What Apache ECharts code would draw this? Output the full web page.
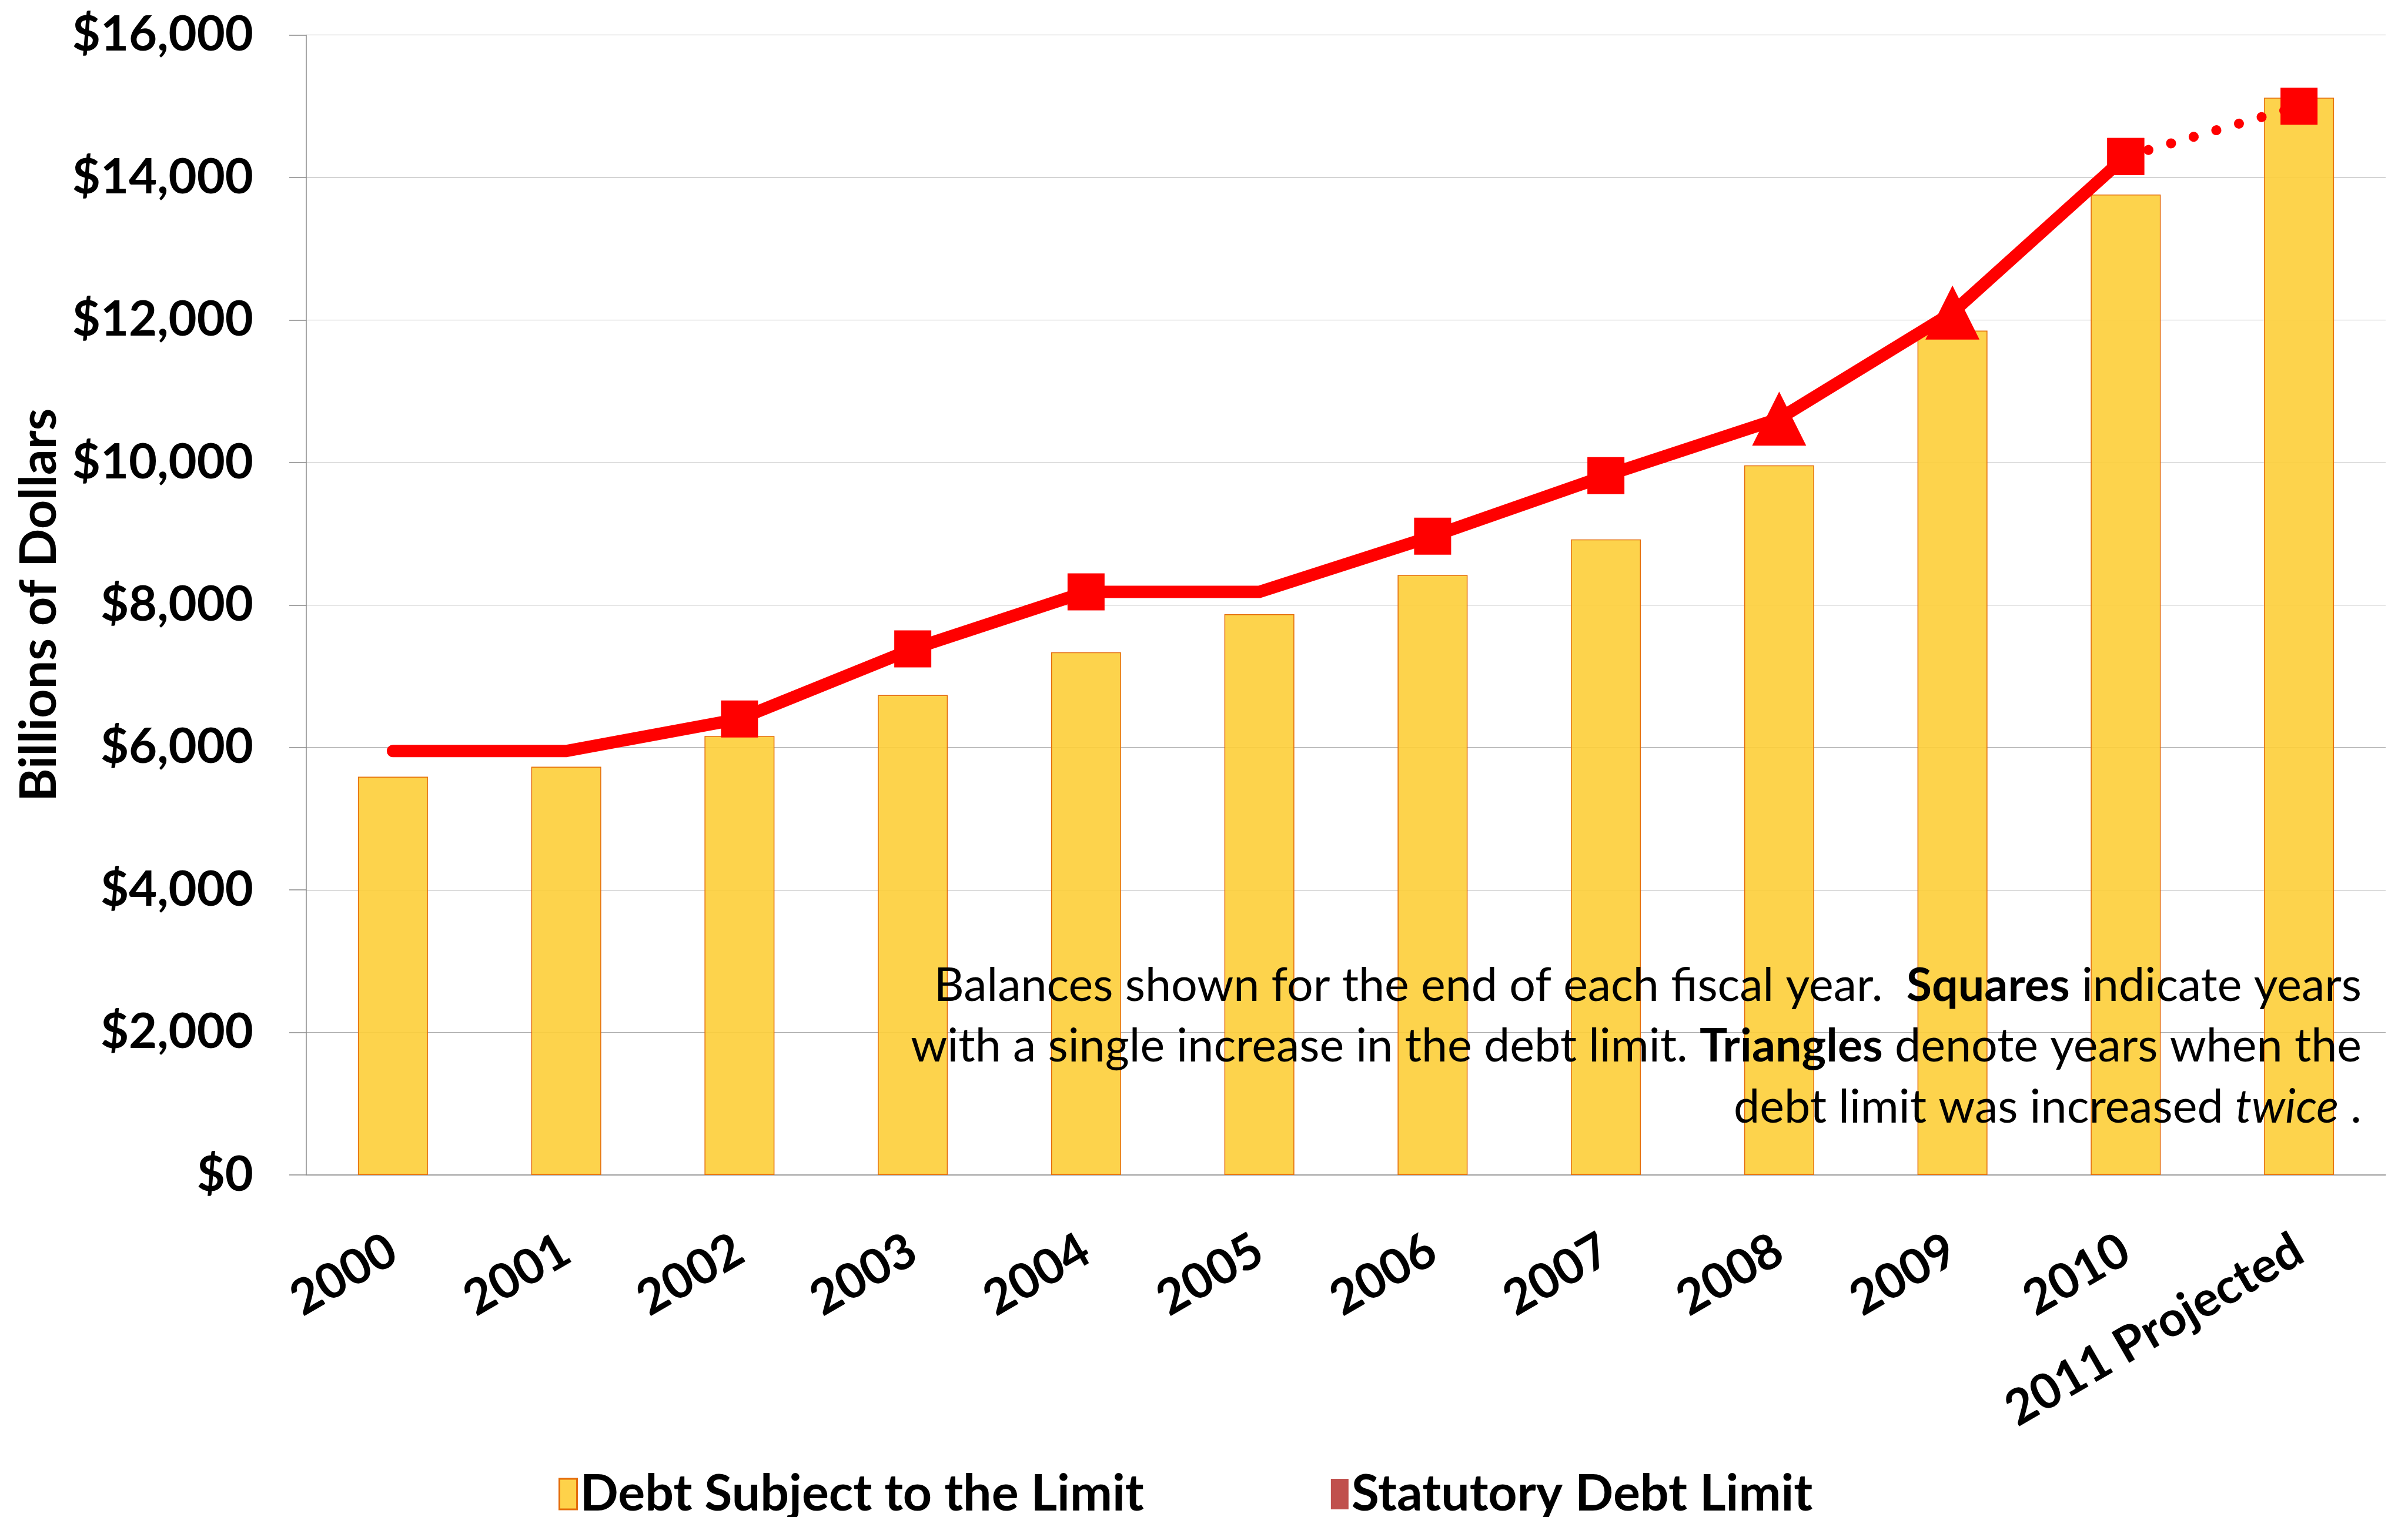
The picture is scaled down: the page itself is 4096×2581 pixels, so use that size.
<!DOCTYPE html>
<html>
<head>
<meta charset="utf-8">
<script src="https://cdn.jsdelivr.net/npm/echarts@6/dist/echarts.min.js"></script>
<style>
html,body{margin:0;padding:0;background:#fff;}
#chart{width:4096px;height:2581px;}
</style>
</head>
<body>
<div id="chart"></div>
<script>
// ---- data ----
var categories = ['2000','2001','2002','2003','2004','2005','2006','2007','2008','2009','2010','2011 Projected'];
var debtSubjectToLimit = [5590, 5730, 6160, 6735, 7335, 7870, 8420, 8920, 9960, 11850, 13760, 15120];
var statutoryDebtLimit = [5950, 5950, 6400, 7384, 8184, 8184, 8965, 9815, 10615, 12104, 14294, null];
var projectedDebtLimit = [null, null, null, null, null, null, null, null, null, null, 14294, 15000];
var limitMarkers = ['none','none','rect','rect','rect','none','rect','rect','triangle','triangle','rect','rect'];
var yTickLabels = ['$0','$2,000','$4,000','$6,000','$8,000','$10,000','$12,000','$14,000','$16,000'];
var seriesNames = ['Debt Subject to the Limit', 'Statutory Debt Limit'];
var noteLines = [
  'Balances shown for the end of each fiscal year.  {b|Squares} indicate years',
  'with a single increase in the debt limit. {b|Triangles} denote years when the',
  'debt limit was increased {i|twice} .'
];

var FONT = 'Lato';
var RED = '#FF0000';
function markerSize(s){ return s === 'triangle' ? 92 : 63; }

var limitData = statutoryDebtLimit.map(function(v, i){
  var s = limitMarkers[i];
  return { value: v, symbol: s, symbolSize: markerSize(s) };
});
var projData = projectedDebtLimit.map(function(v, i){
  var s = v == null ? 'none' : limitMarkers[i];
  return { value: v, symbol: s, symbolSize: markerSize(s) };
});

var chart = echarts.init(document.getElementById('chart'), null, {renderer:'canvas'});
var noteFontSize = 79;
var option = {
  animation: false,
  backgroundColor: '#fff',
  grid: { left: 521, right: 38, top: 59.5, bottom: 582, containLabel: false, outerBoundsMode: 'none' },
  legend: {
    left: 945, top: 2494,
    itemWidth: 30, itemHeight: 52, itemGap: 318,
    textStyle: { fontFamily: FONT, fontWeight: 'bold', fontSize: 86, color: '#000' },
    data: [
      { name: seriesNames[0], icon: 'rect', itemStyle: { color: '#FED24A', borderColor: '#E46C0A', borderWidth: 3 } },
      { name: seriesNames[1], icon: 'rect', itemStyle: { color: '#C0504D', borderWidth: 0 } }
    ]
  },
  xAxis: {
    type: 'category',
    data: categories,
    axisLine: { lineStyle: { color: '#888', width: 1.5 } },
    axisTick: { show: false },
    axisLabel: { rotate: 30, margin: 122, fontFamily: FONT, fontWeight: 'bold', fontSize: 83, color: '#000', interval: 0 }
  },
  yAxis: {
    type: 'value', min: 0, max: 16000, interval: 2000,
    name: 'Billions of Dollars', nameLocation: 'middle', nameGap: 411,
    nameTextStyle: { fontFamily: FONT, fontWeight: 'bold', fontSize: 86, color: '#000' },
    axisLine: { show: true, lineStyle: { color: '#888', width: 1.5 } },
    axisTick: { show: true, length: 29, lineStyle: { color: '#888', width: 1.5 } },
    splitLine: { lineStyle: { color: '#A8A8A8', width: 1.2 } },
    axisLabel: {
      margin: 90, fontFamily: FONT, fontWeight: 'bold', fontSize: 83, color: '#000',
      formatter: function(v){ return yTickLabels[Math.round(v / 2000)]; }
    }
  },
  series: [
    {
      name: seriesNames[0], type: 'bar', data: debtSubjectToLimit,
      barWidth: 119,
      itemStyle: { color: 'rgba(253,206,57,0.9)', borderColor: '#E46C0A', borderWidth: 1.5 },
      z: 2
    },
    {
      name: seriesNames[1], type: 'line', data: limitData,
      lineStyle: { color: RED, width: 21, cap: 'round', join: 'round' },
      itemStyle: { color: RED },
      showSymbol: true, connectNulls: false,
      z: 4
    },
    {
      name: seriesNames[1], type: 'line', data: projData,
      lineStyle: { color: RED, width: 17, type: [0.1, 40], cap: 'round' },
      itemStyle: { color: RED },
      showSymbol: true,
      z: 3
    }
  ],
  graphic: [
    {
      type: 'text', z: 10,
      style: {
        x: 4017, y: 1781,
        text: noteLines.join('\n'),
        align: 'right', verticalAlign: 'middle',
        fontFamily: FONT, fontSize: noteFontSize, fill: '#000',
        lineHeight: 103.5,
        rich: {
          b: { fontFamily: FONT, fontSize: noteFontSize, fontWeight: 'bold', fill: '#000', lineHeight: 103.5 },
          i: { fontFamily: FONT, fontSize: noteFontSize, fontStyle: 'italic', fill: '#000', lineHeight: 103.5 }
        }
      }
    }
  ]
};
chart.setOption(option);
</script>
</body>
</html>
